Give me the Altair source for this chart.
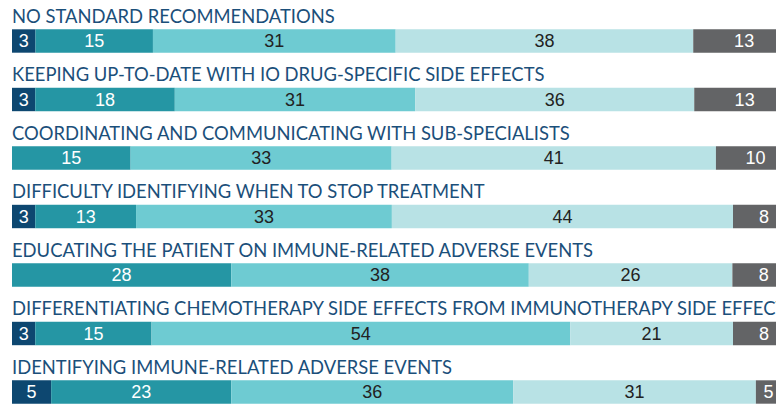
import altair as alt
import pandas as pd

titles = [
    "NO STANDARD RECOMMENDATIONS",
    "KEEPING UP-TO-DATE WITH IO DRUG-SPECIFIC SIDE EFFECTS",
    "COORDINATING AND COMMUNICATING WITH SUB-SPECIALISTS",
    "DIFFICULTY IDENTIFYING WHEN TO STOP TREATMENT",
    "EDUCATING THE PATIENT ON IMMUNE-RELATED ADVERSE EVENTS",
    "DIFFERENTIATING CHEMOTHERAPY SIDE EFFECTS FROM IMMUNOTHERAPY SIDE EFFECTS",
    "IDENTIFYING IMMUNE-RELATED ADVERSE EVENTS",
]
seg_navy = [3, 3, 0, 3, 0, 3, 5]
seg_teal = [15, 18, 15, 13, 28, 15, 23]
seg_mid = [31, 31, 33, 33, 38, 54, 36]
seg_light = [38, 36, 41, 44, 26, 21, 31]
seg_gray = [13, 13, 10, 8, 8, 8, 5]

seg_names = ["s0", "s1", "s2", "s3", "s4"]
seg_colors = ["#0d4770", "#2596a4", "#6ecbd2", "#b8e2e5", "#636466"]
text_colors = ["#ffffff", "#ffffff", "#222222", "#222222", "#ffffff"]

series = [seg_navy, seg_teal, seg_mid, seg_light, seg_gray]
rows = []
for r, t in enumerate(titles):
    for k, s in enumerate(series):
        rows.append({"row": r, "title": t, "k": k, "seg": seg_names[k],
                     "value": s[r], "tc": text_colors[k]})
df = pd.DataFrame(rows)
tdf = pd.DataFrame({"row": list(range(len(titles))), "title": titles})

yenc = alt.Y("row:O", scale=alt.Scale(type="point", padding=0), axis=None)
xscale = alt.Scale(domain=[0, 0.9757], nice=False, zero=False, clamp=True)

base = alt.Chart(df).transform_stack(
    stack="value", groupby=["row"], sort=[alt.SortField("k", order="ascending")],
    as_=["x0", "x1"], offset="normalize"
).transform_calculate(mid="min((datum.x0 + datum.x1) / 2, 0.966)")

bars = base.mark_bar(size=23.4).encode(
    x=alt.X("x0:Q", scale=xscale, axis=None),
    x2="x1:Q",
    y=yenc,
    color=alt.Color("seg:N", scale=alt.Scale(domain=seg_names, range=seg_colors), legend=None),
)

labels = base.transform_filter("datum.value > 0").mark_text(
    font="Liberation Sans", fontSize=18, baseline="middle", dy=1
).encode(
    x=alt.X("mid:Q", scale=xscale, axis=None),
    y=yenc,
    text="value:Q",
    color=alt.Color("tc:N", scale=None),
)

heads = alt.Chart(tdf).mark_text(
    align="left", baseline="alphabetic", dy=-18.5, font="Lato", fontSize=18.4, color="#1b4f7a"
).encode(
    x=alt.value(0),
    y=yenc,
    text="title:N",
)

chart = alt.layer(bars, labels, heads).properties(
    width=764, height=351,
    padding={"left": 4, "top": 33, "right": 0, "bottom": 12},
    autosize="none",
).configure_view(stroke=None)

chart.save("out.html", embed_options={"renderer": "svg", "actions": False})
